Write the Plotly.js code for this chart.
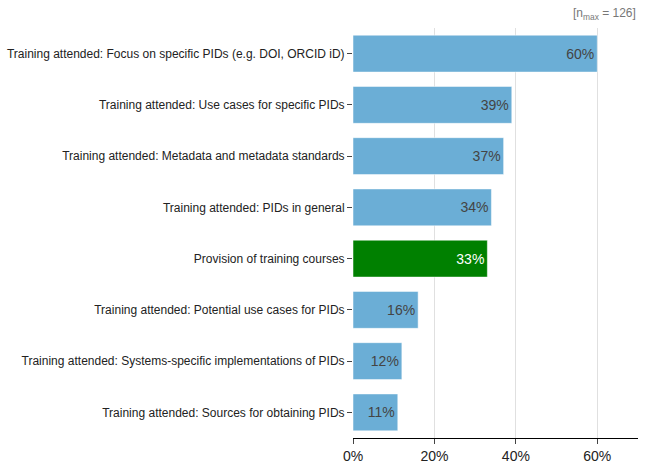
<!DOCTYPE html>
<html>
<head>
<meta charset="utf-8">
<script src="https://cdn.plot.ly/plotly-3.0.1.min.js"></script>
<style>
  body { margin: 0; padding: 0; }
  #chart { width: 646px; height: 470px; }
</style>
</head>
<body>
<div id="chart"></div>
<script>
// categories, top to bottom as shown
let categories = [
    "Training attended: Focus on specific PIDs (e.g. DOI, ORCID iD)",
    "Training attended: Use cases for specific PIDs",
    "Training attended: Metadata and metadata standards",
    "Training attended: PIDs in general",
    "Provision of training courses",
    "Training attended: Potential use cases for PIDs",
    "Training attended: Systems-specific implementations of PIDs",
    "Training attended: Sources for obtaining PIDs"
];
let shares = [60, 39, 37, 34, 33, 16, 12, 11];
let highlight = "Provision of training courses";
let nMax = 126;
let xTicks = [0, 20, 40, 60];

let barColors = categories.map(c => c === highlight ? "#008000" : "#6baed6");
let textColors = categories.map(c => c === highlight ? "#ffffff" : "#444444");

let data = [{
    type: "bar",
    orientation: "h",
    y: categories,
    x: shares,
    text: shares.map(v => v + "%"),
    textposition: "inside",
    insidetextanchor: "end",
    textfont: { family: "Liberation Sans, Arial, sans-serif", size: 14, color: textColors },
    marker: {
        color: barColors,
        line: { color: "rgba(255,255,255,0.5)", width: 1 }
    },
    hoverinfo: "x+y",
    showlegend: false
}];

let layout = {
    width: 646,
    height: 470,
    margin: { l: 353, r: 8, t: 28, b: 32 },
    paper_bgcolor: "#ffffff",
    plot_bgcolor: "#ffffff",
    bargap: 0.28,
    font: { family: "Liberation Sans, Arial, sans-serif", color: "#222" },
    xaxis: {
        range: [0, 70],
        tickvals: xTicks,
        ticktext: xTicks.map(v => v + "%"),
        tickfont: { size: 14, color: "#222" },
        showgrid: true,
        gridcolor: "#e0e0e0",
        zeroline: false,
        showline: true,
        linecolor: "#000",
        linewidth: 1,
        ticks: "outside",
        ticklen: 5,
        tickcolor: "#444",
        fixedrange: true
    },
    yaxis: {
        autorange: "reversed",
        type: "category",
        tickfont: { size: 12, color: "#222" },
        ticks: "outside",
        ticklen: 5,
        tickcolor: "#444",
        showgrid: false,
        zeroline: false,
        showline: false,
        fixedrange: true
    },
    annotations: [{
        xref: "paper",
        yref: "paper",
        x: 1,
        y: 1,
        xanchor: "right",
        yanchor: "bottom",
        yshift: 4,
        showarrow: false,
        text: "[n<sub>max</sub> = " + nMax + "]",
        font: { size: 12, color: "#777" }
    }]
};

Plotly.newPlot("chart", data, layout, { displayModeBar: false, staticPlot: true });
</script>
</body>
</html>
